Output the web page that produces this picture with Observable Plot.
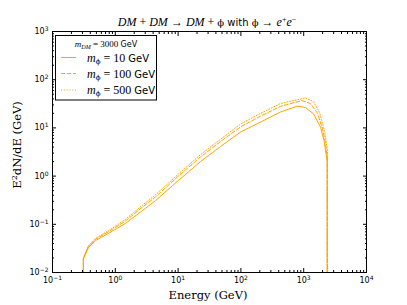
<!DOCTYPE html>
<html><head><meta charset="utf-8">
<script src="https://cdn.jsdelivr.net/npm/d3@7"></script>
<script src="https://cdn.jsdelivr.net/npm/@observablehq/plot@0.6"></script>
<style>body{margin:0;background:#fff} svg{display:block}</style>
</head><body><div id="chart"></div>
<script>
// m_phi = 10 GeV (solid)
const energy10 = [0.31, 0.31, 0.374, 0.484, 0.78, 1.45, 2.71, 4.37, 10.1, 22.8, 47.3, 98.6, 205, 427, 796, 1069, 1430, 1852, 2104, 2350, 2350];
const flux10   = [0.01, 0.019, 0.033, 0.046, 0.065, 0.104, 0.193, 0.31, 0.81, 2.0, 4.1, 8.2, 13.2, 21.4, 28.4, 26.4, 19.6, 10.4, 5.5, 2.1, 0.01];
// m_phi = 100 GeV (dashed)
const energy100 = [0.31, 0.31, 0.374, 0.484, 0.78, 1.45, 2.71, 4.37, 10.1, 22.8, 47.3, 98.6, 205, 427, 940, 1283, 1660, 1990, 2224, 2390, 2390];
const flux100   = [0.01, 0.020, 0.035, 0.049, 0.070, 0.117, 0.228, 0.37, 1.0, 2.5, 5.2, 10.5, 17.5, 28, 37, 32, 20, 9.7, 4.7, 2.3, 0.01];
// m_phi = 500 GeV (dotted)
const energy500 = [0.31, 0.31, 0.374, 0.484, 0.78, 1.45, 2.71, 4.37, 10.1, 22.8, 47.3, 98.6, 205, 427, 1069, 1430, 1787, 2142, 2390, 2390];
const flux500   = [0.01, 0.020, 0.036, 0.051, 0.074, 0.126, 0.25, 0.41, 1.1, 2.8, 5.8, 12, 20, 32, 42, 35, 21, 8.8, 3.4, 0.01];

const seriesMasses = ["10", "100", "500"];
const massDM = "3000";
const xTicks = [0.1, 1, 10, 100, 1000, 10000];
const xTickExp = ["−1", "0", "1", "2", "3", "4"];
const yTicks = [0.01, 0.1, 1, 10, 100, 1000];
const yTickExp = ["−2", "−1", "0", "1", "2", "3"];

const dashes = ["none", "4,2", "1,1.8"];
const color = "#ffa500";

const series = [
  {m: seriesMasses[0], E: energy10, V: flux10},
  {m: seriesMasses[1], E: energy100, V: flux100},
  {m: seriesMasses[2], E: energy500, V: flux500}
];
const rows = series.flatMap((s, k) => s.E.map((e, i) => ({s: k, E: e, V: s.V[i]})));

function minorTicks(major) {
  const out = [];
  for (let i = 0; i < major.length - 1; i++) for (let k = 2; k <= 9; k++) out.push(major[i] * k);
  return out;
}
const xMinor = minorTicks(xTicks), yMinor = minorTicks(yTicks);

const fmtX = d => "10^" + xTickExp[xTicks.findIndex(t => Math.abs(Math.log10(t) - Math.log10(d)) < 1e-6)];
const fmtY = d => "10^" + yTickExp[yTicks.findIndex(t => Math.abs(Math.log10(t) - Math.log10(d)) < 1e-6)];

const chart = Plot.plot({
  width: 407, height: 305,
  marginLeft: 52, marginRight: 41, marginTop: 31, marginBottom: 33,
  style: {background: "white", fontFamily: "DejaVu Sans", fontSize: "8px", color: "black", overflow: "visible"},
  x: {type: "log", domain: [0.1, 1e4]},
  y: {type: "log", domain: [0.01, 1000]},
  marks: [
    ...series.map((s, k) => Plot.line(rows.filter(r => r.s === k), {x: "E", y: "V", stroke: color, strokeWidth: 1, strokeDasharray: dashes[k], clip: true})),
    Plot.axisX(xTicks, {anchor: "bottom", tickSize: -4, text: null, label: null}),
    Plot.axisX(xTicks, {anchor: "top", tickSize: -4, text: null, label: null}),
    Plot.axisX(xMinor, {anchor: "bottom", tickSize: -2, text: null, label: null}),
    Plot.axisX(xMinor, {anchor: "top", tickSize: -2, text: null, label: null}),
    Plot.axisY(yTicks, {anchor: "left", tickSize: -4, text: null, label: null}),
    Plot.axisY(yTicks, {anchor: "right", tickSize: -4, text: null, label: null}),
    Plot.axisY(yMinor, {anchor: "left", tickSize: -2, text: null, label: null}),
    Plot.axisY(yMinor, {anchor: "right", tickSize: -2, text: null, label: null}),
    Plot.axisX(xTicks, {anchor: "bottom", tickSize: 0, tickPadding: 5, tickFormat: fmtX, label: null}),
    Plot.axisY(yTicks, {anchor: "left", tickSize: 0, tickPadding: 4, tickFormat: fmtY, label: null}),
    Plot.frame({stroke: "black", strokeWidth: 1})
  ]
});
document.getElementById("chart").appendChild(chart);

const svg = d3.select(chart);
// superscript tick labels
svg.selectAll('g[aria-label="x-axis tick label"] text, g[aria-label="y-axis tick label"] text').each(function() {
  const t = this.textContent;
  const m = t.match(/^10\^(.*)$/);
  if (m) {
    this.textContent = "";
    const s = d3.select(this);
    s.append("tspan").text("10");
    s.append("tspan").attr("dy", "-0.5em").attr("font-size", "6px").text(m[1]);
  }
});

const serif = "'DejaVu Serif', serif";
const mathFont = "'Liberation Serif', serif";
const phiFont = "'DejaVu Serif', serif";

// title
const title = svg.append("text").attr("x", 207).attr("y", 26).attr("text-anchor", "middle")
  .attr("font-size", "11px").attr("fill", "black");
const tparts = [
  ["DM", "i"], [" + ", "m"], ["DM", "i"], [" → ", "m"], ["DM", "i"], [" + ", "m"], ["ϕ", "p"],
  [" with ", "s"], ["ϕ", "p"], [" → ", "m"], ["e", "i"], ["+", "sup"], ["e", "i"], ["−", "sup"]
];
let lastSup = false;
tparts.forEach(([txt, k]) => {
  const sp = title.append("tspan").text(txt);
  if (k === "i") sp.attr("font-family", mathFont).attr("font-style", "italic").attr("font-size", "12px");
  if (k === "m") sp.attr("font-family", mathFont).attr("font-size", "12px");
  if (k === "p") sp.attr("font-family", phiFont).attr("font-size", "10px");
  if (k === "s") sp.attr("font-family", "DejaVu Sans").attr("font-size", "10px");
  if (k === "sup") sp.attr("font-family", mathFont).attr("font-size", "8px").attr("dy", "-4");
  if (lastSup && k !== "sup") sp.attr("dy", "4");
  lastSup = k === "sup";
});

// x label
svg.append("text").attr("x", 208).attr("y", 299).attr("text-anchor", "middle")
  .attr("font-family", serif).attr("font-size", "11.5px").attr("fill", "black").text("Energy (GeV)");

// y label
const yl = svg.append("text").attr("transform", "translate(21,145) rotate(-90)").attr("text-anchor", "middle")
  .attr("font-family", serif).attr("font-size", "11.5px").attr("fill", "black");
yl.append("tspan").text("E");
yl.append("tspan").attr("dy", "-4").attr("font-size", "8px").text("2");
yl.append("tspan").attr("dy", "4").text("dN/dE (GeV)");

// legend
const lg = svg.append("g");
lg.append("rect").attr("x", 55.5).attr("y", 35.5).attr("width", 101).attr("height", 64.5)
  .attr("fill", "white").attr("stroke", "black").attr("stroke-width", 1);
const lt = lg.append("text").attr("x", 106).attr("y", 47).attr("text-anchor", "middle").attr("fill", "black");
lt.append("tspan").attr("font-family", mathFont).attr("font-style", "italic").attr("font-size", "9px").text("m");
lt.append("tspan").attr("font-family", mathFont).attr("font-style", "italic").attr("font-size", "6px").attr("dy", "2").text("DM");
lt.append("tspan").attr("font-family", mathFont).attr("font-size", "9px").attr("dy", "-2").text(" = " + massDM + " ");
lt.append("tspan").attr("font-family", "DejaVu Sans").attr("font-size", "8px").text("GeV");

const rowY = [57.5, 73.5, 90];
series.forEach((s, k) => {
  lg.append("line").attr("x1", 61).attr("x2", 76).attr("y1", rowY[k]).attr("y2", rowY[k])
    .attr("stroke", color).attr("stroke-width", 1).attr("stroke-dasharray", dashes[k]);
  const t = lg.append("text").attr("x", 87).attr("y", rowY[k] + 4).attr("text-anchor", "start").attr("fill", "black");
  t.append("tspan").attr("font-family", mathFont).attr("font-style", "italic").attr("font-size", "12px").text("m");
  t.append("tspan").attr("font-family", phiFont).attr("font-size", "7px").attr("dy", "2").text("ϕ");
  t.append("tspan").attr("font-family", mathFont).attr("font-size", "12px").attr("dy", "-2").text(" = " + s.m + " ");
  t.append("tspan").attr("font-family", "DejaVu Sans").attr("font-size", "10px").text("GeV");
});
</script>
</body></html>
